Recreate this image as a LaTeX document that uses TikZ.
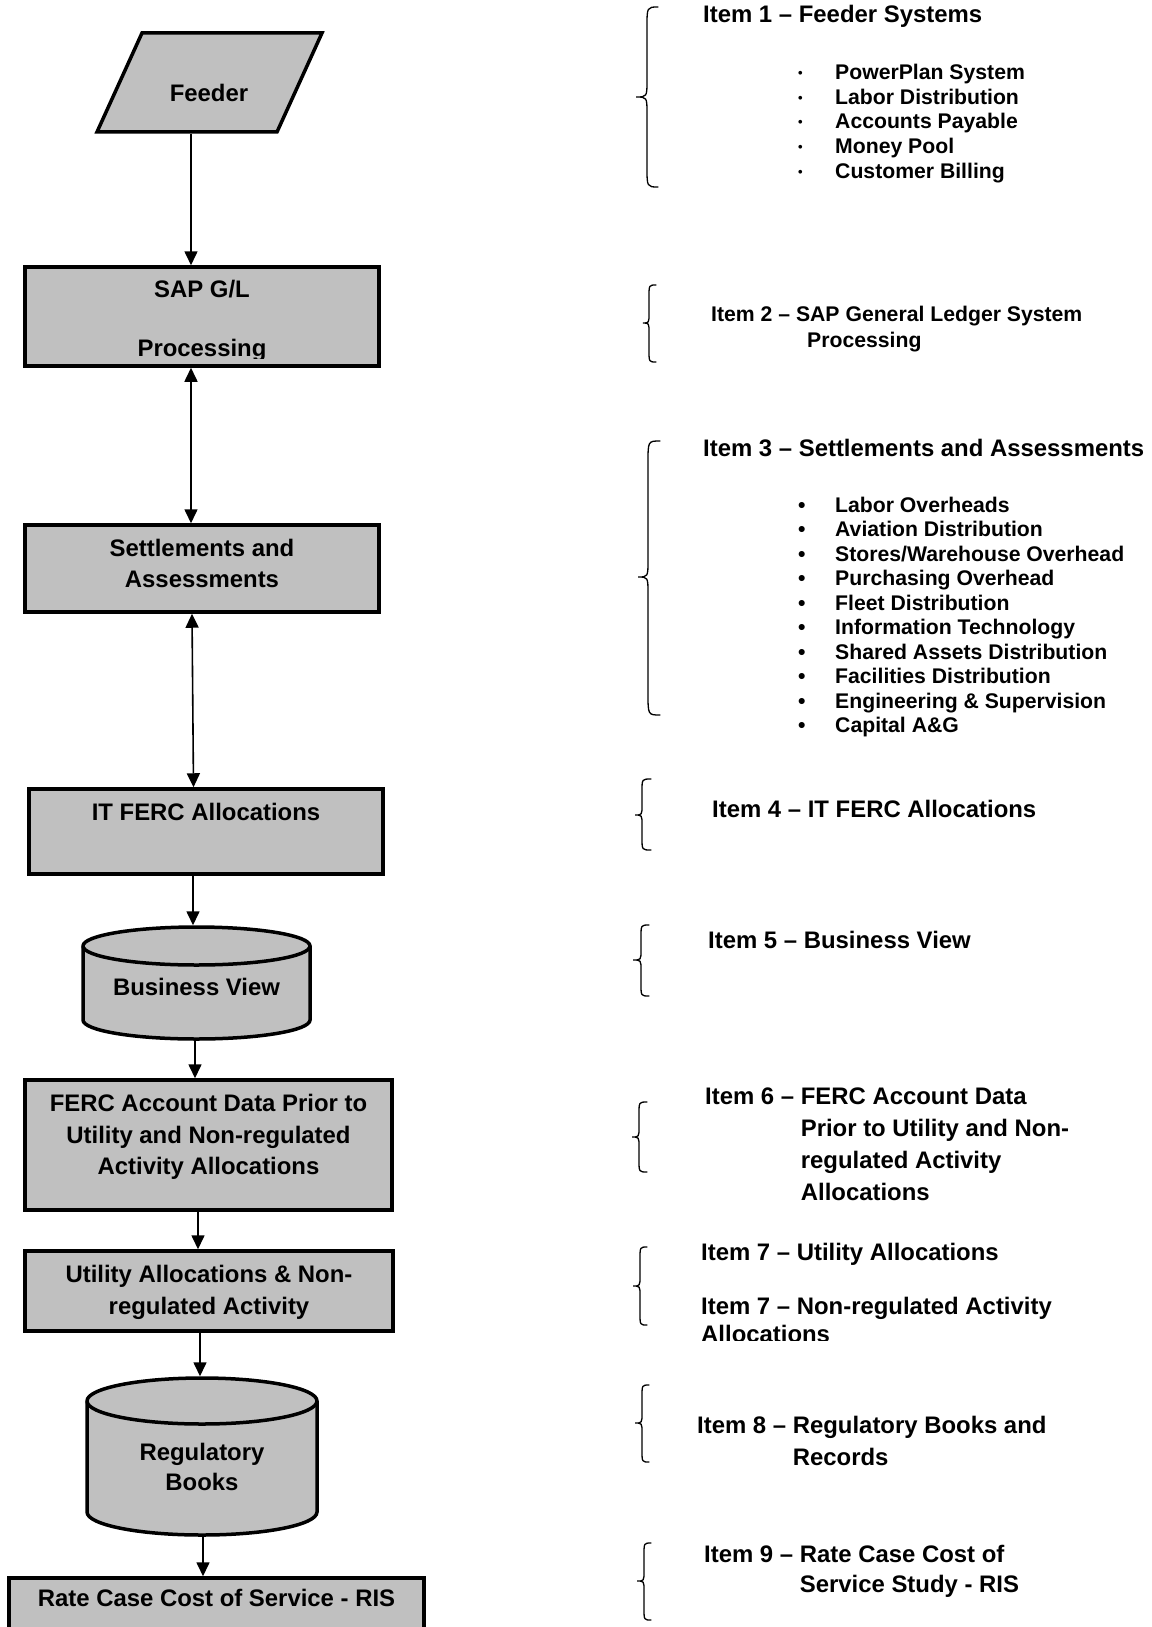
\documentclass[tikz,border=0pt]{standalone}
\usepackage{fontspec}
\setmainfont{Liberation Sans}
\usetikzlibrary{arrows.meta}
\definecolor{boxgray}{RGB}{192,192,192}
\newcommand\cl[1]{\begin{tabular}[t]{@{}c@{}}#1\end{tabular}}
\newcommand\hl[1]{\begin{tabular}[t]{@{}l@{}l@{}}#1\end{tabular}}
\newcommand\lcol[1]{\begin{tabular}[t]{@{}l@{}}#1\end{tabular}}
\newcommand\bigbu{\makebox[37pt][l]{•}}
\newcommand\smallbu{\makebox[37pt][l]{\fontsize{13}{13}\selectfont\raisebox{2pt}{•}}}
\newcommand\drawbrc[8]{\draw[brc] (#1,#4) .. controls (#2,#4) .. (#2,{#4+#7}) -- (#2,{#5-#8}) .. controls (#2,#5) .. (#3,#5) .. controls (#2,#5) .. (#2,{#5+#8}) -- (#2,{#6-#7}) .. controls (#2,#6) .. (#1,#6);}
\tikzset{
  shp/.style={draw=black, line width=3.5pt, fill=boxgray, line join=miter},
  ghost/.style={inner sep=0pt, outer sep=1.75pt},
  btxt/.style={inner sep=0pt, anchor=base, font=\bfseries\fontsize{23.9}{31.5}\selectfont},
  htxt/.style={inner sep=0pt, anchor=base west, font=\bfseries\fontsize{23.9}{32}\selectfont},
  ltxt/.style={inner sep=0pt, anchor=base west, font=\bfseries\fontsize{21.2}{24.45}\selectfont},
  conn/.style={line width=1.6pt, -{Triangle[length=14pt,width=13pt]}},
  dconn/.style={line width=1.6pt, {Triangle[length=14pt,width=13pt]}-{Triangle[length=14pt,width=13pt]}},
  brc/.style={line width=1.3pt, line cap=round},
}
\begin{document}
\begin{tikzpicture}[x=1pt,y=-1pt]
\useasboundingbox (0,0) rectangle (1151,1627);
\fill[white] (0,0) rectangle (1151,1627);
\clip (0,0) rectangle (1151,1627);

% ---- left column shapes ----
\draw[shp] (142,33) -- (322,33) -- (277,132) -- (97,132) -- cycle;
\node[ghost, minimum width=180pt, minimum height=99pt] (feeder) at (209.5,82.5) {};
\node[shp, inner sep=0pt, minimum width=354pt, minimum height=99pt] (sap) at (202,316.5) {};
\node[shp, inner sep=0pt, minimum width=354pt, minimum height=87pt] (settle) at (202,568.5) {};
\node[shp, inner sep=0pt, minimum width=354pt, minimum height=85pt] (itferc) at (206,831.5) {};
\filldraw[shp] (83,946) -- (83,1020) arc[start angle=180,end angle=360,x radius=113.5pt,y radius=19pt]
  -- (310,946) arc[start angle=0,end angle=180,x radius=113.5pt,y radius=19pt] -- cycle;
\draw[shp, fill=none] (83,946) arc[start angle=180,end angle=360,x radius=113.5pt,y radius=19pt];
\node[ghost, minimum width=227pt, minimum height=112pt] (bv) at (196.5,983) {};
\node[shp, inner sep=0pt, minimum width=367pt, minimum height=130pt] (ferc) at (208.5,1145) {};
\node[shp, inner sep=0pt, minimum width=368pt, minimum height=80pt] (util) at (209,1291) {};
\filldraw[shp] (87,1401) -- (87,1512) arc[start angle=180,end angle=360,x radius=115pt,y radius=23pt]
  -- (317,1401) arc[start angle=0,end angle=180,x radius=115pt,y radius=23pt] -- cycle;
\draw[shp, fill=none] (87,1401) arc[start angle=180,end angle=360,x radius=115pt,y radius=23pt];
\node[ghost, minimum width=230pt, minimum height=157pt] (rb) at (202,1456.5) {};
\node[shp, inner sep=0pt, minimum width=415pt, minimum height=102pt] (rate) at (216.5,1629) {};

% ---- left column texts ----
\node[btxt] (feedert) at (209,101.5) {Feeder};
\node[btxt] (sapt1) at (202,297.5) {SAP G/L};
\begin{scope}
  \clip (25,300) rectangle (379,358.5);
  \node[btxt] (sapt2) at (202,356) {Processing};
\end{scope}
\node[btxt] (settlet) at (202,556) {\cl{Settlements and\\Assessments}};
\node[btxt] (itferct) at (206,820.5) {IT FERC Allocations};
\node[btxt] (bvt) at (196.5,995.5) {Business View};
\node[btxt] (fercft) at (208.5,1111.5) {\cl{FERC Account Data Prior to\\Utility and Non-regulated\\Activity Allocations}};
\node[btxt, font=\bfseries\fontsize{23.9}{32}\selectfont] (utilt) at (209,1282.5) {\cl{Utility Allocations \& Non-\\regulated Activity}};
\node[btxt, font=\bfseries\fontsize{23.9}{30}\selectfont] (rbt) at (202,1460.5) {\cl{Regulatory\\Books}};
\node[btxt] (ratet) at (216.5,1606) {Rate Case Cost of Service - RIS};

% ---- connectors ----
\draw[conn] ([xshift=-18.5pt]feeder.south) -- ([xshift=-11pt]sap.north);
\draw[dconn] ([xshift=-11pt]sap.south) -- ([xshift=-11pt]settle.north);
\draw[dconn] ([xshift=-10pt]settle.south) -- ([xshift=-12.5pt]itferc.north);
\draw[conn] ([xshift=-13pt]itferc.south) -- ([xshift=-3.5pt]bv.north);
\draw[conn] ([xshift=-1.5pt]bv.south) -- ([xshift=-13.5pt]ferc.north);
\draw[conn] ([xshift=-10.5pt]ferc.south) -- ([xshift=-11pt]util.north);
\draw[conn] ([xshift=-9pt]util.south) -- ([xshift=-2pt]rb.north);
\draw[conn] ([xshift=1pt]rb.south) -- ([xshift=-13.5pt]rate.north);

% ---- braces ----
\drawbrc{658}{647}{636}{7}{97}{187}{20}{17}
\drawbrc{656}{649}{643}{285}{323}{362}{12}{10}
\drawbrc{660}{648}{638}{441}{577}{715}{22}{17}
\drawbrc{651}{642}{635}{779}{815}{850}{12}{10}
\drawbrc{649}{641}{633}{925}{960}{996}{12}{10}
\drawbrc{647}{639}{632}{1102}{1137}{1172}{12}{10}
\drawbrc{647}{640}{633}{1247}{1286}{1325}{12}{10}
\drawbrc{649}{642}{635}{1385}{1423}{1462}{12}{10}
\drawbrc{651}{644}{637}{1543}{1581}{1620}{12}{10}

% ---- right column texts ----
\node[htxt] (i1) at (703,23) {Item 1 – Feeder Systems};
\node[ltxt, font=\bfseries\fontsize{21.2}{24.7}\selectfont] (i1b) at (798,79.5) {\lcol{\smallbu PowerPlan System\\\smallbu Labor Distribution\\\smallbu Accounts Payable\\\smallbu Money Pool\\\smallbu Customer Billing}};
\node[ltxt, font=\bfseries\fontsize{21.2}{26}\selectfont] (i2) at (711,321) {\lcol{Item 2 – SAP General Ledger System\\\hspace{96pt}Processing}};
\node[htxt] (i3) at (703,456) {Item 3 – Settlements and Assessments};
\node[ltxt] (i3b) at (798,512.5) {\lcol{\bigbu Labor Overheads\\\bigbu Aviation Distribution\\\bigbu Stores/Warehouse Overhead\\\bigbu Purchasing Overhead\\\bigbu Fleet Distribution\\\bigbu Information Technology\\\bigbu Shared Assets Distribution\\\bigbu Facilities Distribution\\\bigbu Engineering \& Supervision\\\bigbu Capital A\&G}};
\node[htxt] (i4) at (712,817) {Item 4 – IT FERC Allocations};
\node[htxt] (i5) at (708,948) {Item 5 – Business View};
\node[htxt] (i6) at (705,1104.5) {\hl{Item 6 –\ \mbox{} & FERC Account Data\\ & Prior to Utility and Non-\\ & regulated Activity\\ & Allocations}};
\node[htxt] (i7a) at (701,1260.5) {Item 7 – Utility Allocations};
\begin{scope}
  \clip (690,1285) rectangle (1140,1340.5);
  \node[htxt, font=\bfseries\fontsize{23.9}{27.5}\selectfont] (i7b) at (701,1314.5) {\lcol{Item 7 – Non-regulated Activity\\Allocations}};
\end{scope}
\node[htxt] (i8) at (697,1433.5) {\hl{Item 8 –\ \mbox{} & Regulatory Books and\\ & Records}};
\node[htxt, font=\bfseries\fontsize{23.9}{30}\selectfont] (i9) at (704,1562.5) {\hl{Item 9 –\ \mbox{} & Rate Case Cost of\\ & Service Study - RIS}};
\end{tikzpicture}
\end{document}
